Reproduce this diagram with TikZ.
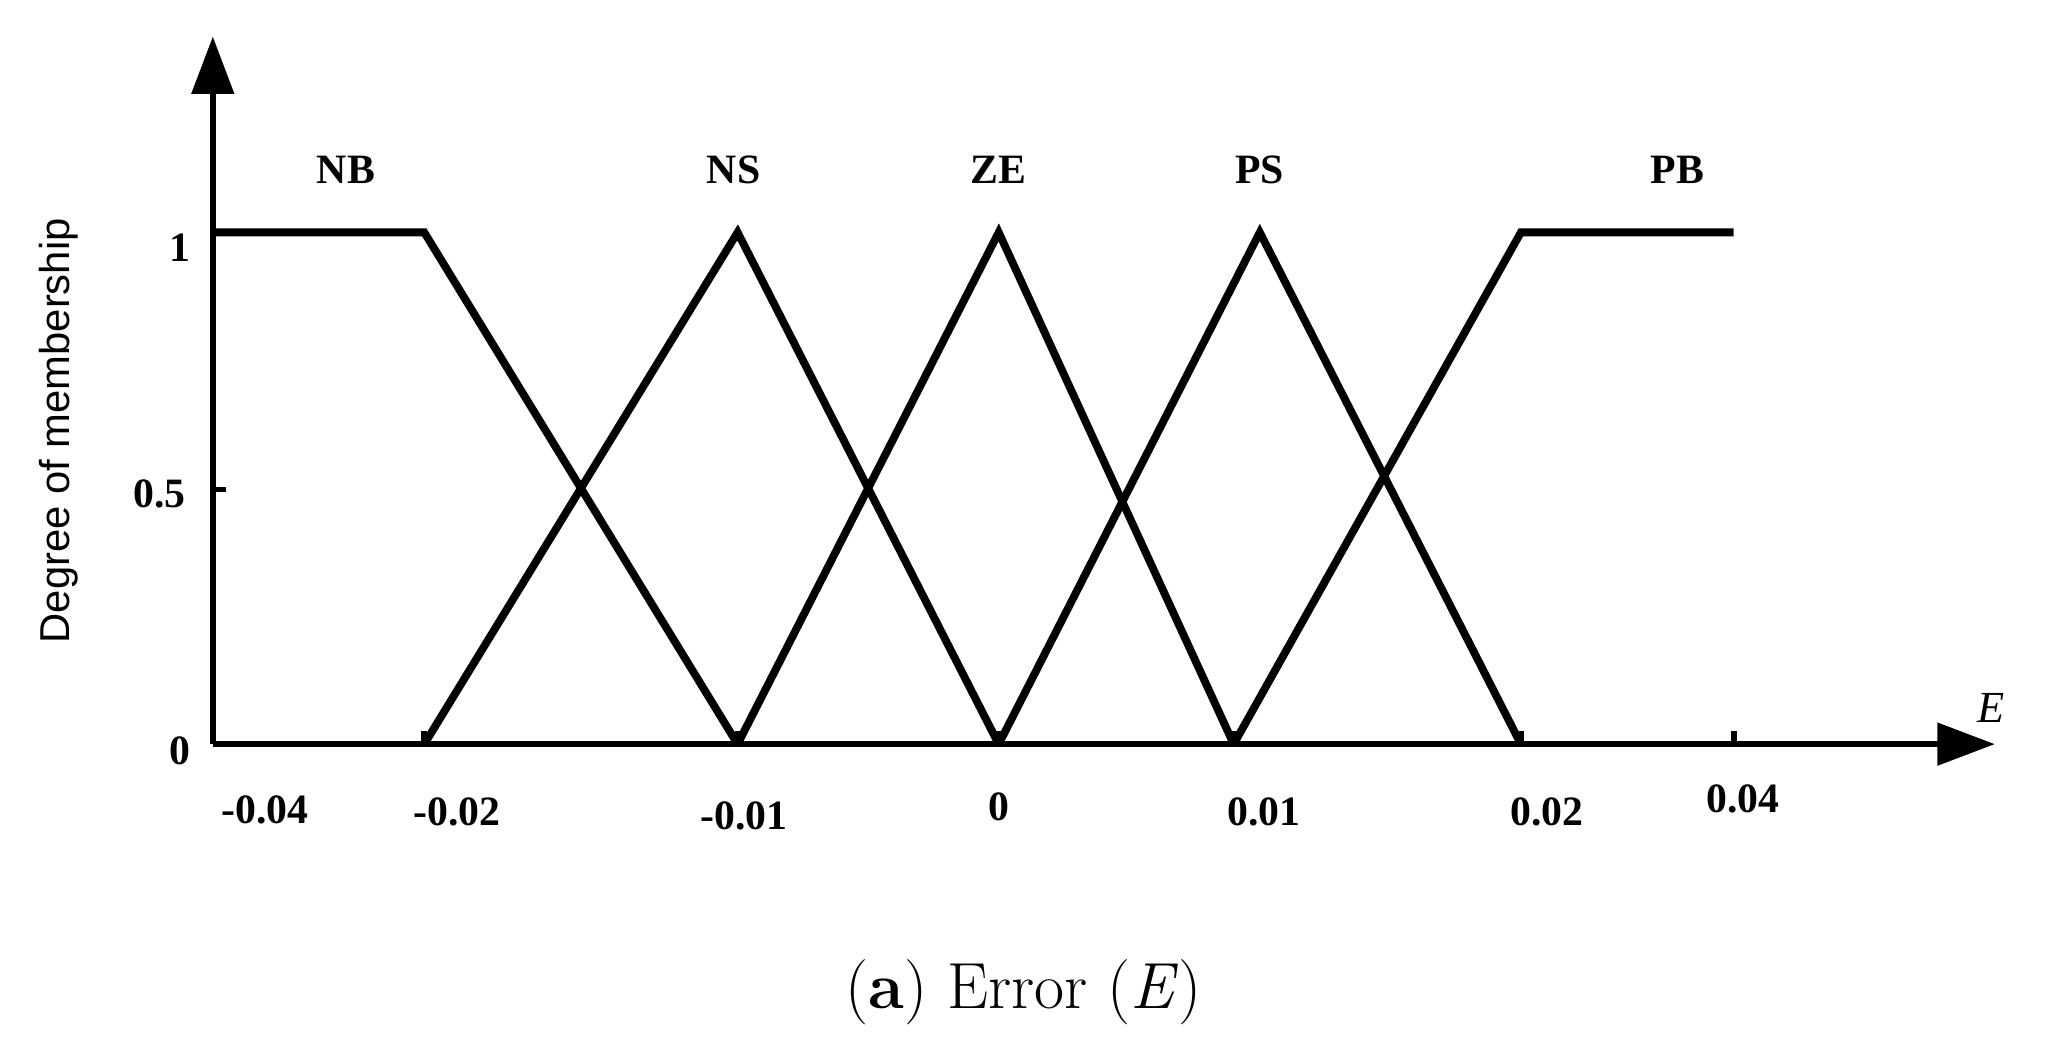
\documentclass[tikz,border=0pt]{standalone}
\usepackage{fontspec}
\setmainfont{Liberation Serif}
\newfontfamily\lmfont{Latin Modern Roman}
\newfontfamily\sansf{Liberation Sans}
\usetikzlibrary{arrows.meta}
\begin{document}
\begin{tikzpicture}[x=0.5pt,y=-0.5pt,
  mf/.style={line width=3pt,line join=miter},
  ax/.style={line width=2.2pt,-{Triangle[length=22pt,width=16pt]}},
  lab/.style={font=\fontsize{16}{18}\selectfont\bfseries},
  tick/.style={line width=2.2pt}]
\useasboundingbox (0,0) rectangle (1568,803);
\coordinate (o) at (163,570);
\coordinate (ytip) at (163,28);
\coordinate (xtip) at (1528,570);
\draw[ax] (o) -- (ytip);
\draw[ax] (o) -- (xtip);
\foreach \x in {325,565,765,945,1165,1328}{\draw[tick] (\x,570) -- (\x,560);}
\draw[tick] (163,375) -- (173,375);
\draw[mf] (163,178) -- (325,178) -- (565,570);
\draw[mf] (325,570) -- (565,178) -- (765,570);
\draw[mf] (565,570) -- (765,178) -- (945,570);
\draw[mf] (765,570) -- (965,178) -- (1165,570);
\draw[mf] (945,570) -- (1165,178) -- (1328,178);
\foreach \t/\x in {NB/265,NS/562,ZE/765,PS/965,PB/1285}{\node[lab] (l\t) at (\x,130) {\t};}
\node[lab] (x1) at (203,620) {-0.04};
\node[lab] (x2) at (350,622) {-0.02};
\node[lab] (x3) at (570,625) {-0.01};
\node[lab] (x4) at (765,618) {0};
\node[lab] (x5) at (968,622) {0.01};
\node[lab] (x6) at (1185,622) {0.02};
\node[lab] (x7) at (1335,612) {0.04};
\node[lab] (y1) at (138,190) {1};
\node[lab] (y2) at (122,378) {0.5};
\node[lab] (y3) at (138,575) {0};
\node[font=\fontsize{17}{18}\selectfont\itshape] (E) at (1525,542) {E};
\node[font=\sansf\fontsize{16}{18}\selectfont,rotate=90] (dm) at (45,330) {Degree of membership};
\node[font=\lmfont\fontsize{25}{28}\selectfont] (cap) at (784,760) {(\textbf{a}) Error (\textit{E})};
\end{tikzpicture}
\end{document}
